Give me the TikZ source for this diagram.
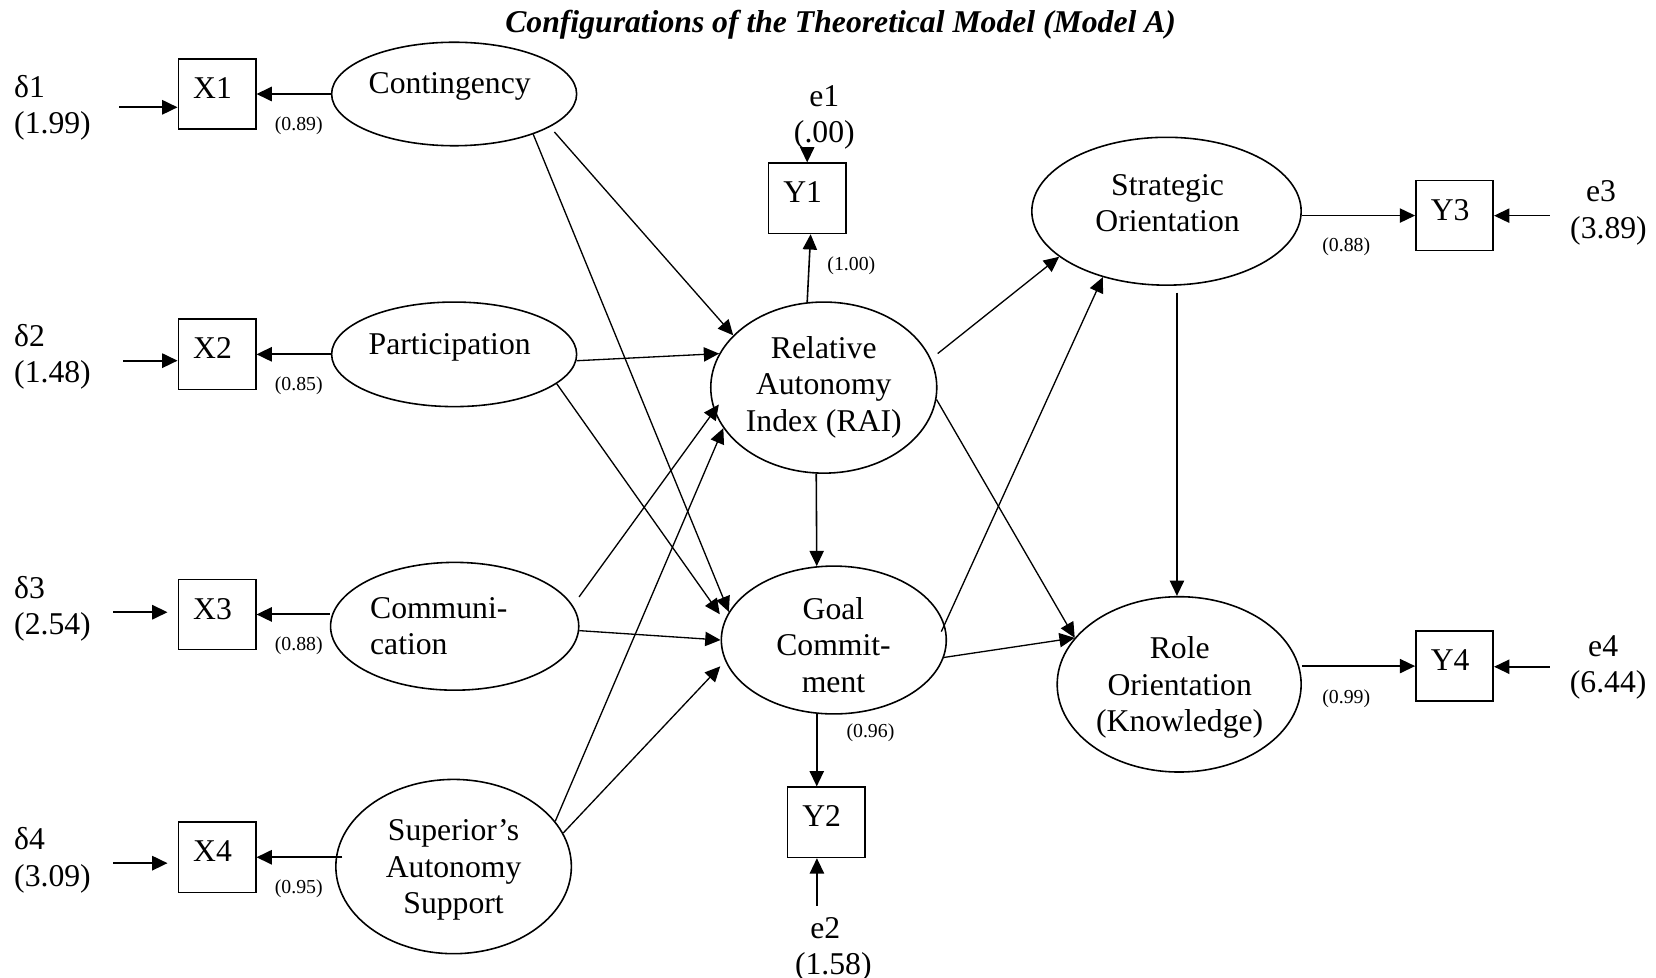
\documentclass[tikz,border=0pt]{standalone}
\usepackage{fontspec}
\setmainfont{Liberation Serif}
\usetikzlibrary{arrows.meta,shapes.geometric}
\begin{document}
\begin{tikzpicture}[x=0.4pt, y=-0.4pt, line width=0.6pt,
  arr/.style={-{Triangle[length=5.8pt,width=5.4pt]}},
  path/.style={arr, line width=0.5pt},
  load/.style={arr, line width=0.75pt},
  latent/.style={draw, ellipse, inner sep=0pt},
  obs/.style={draw, rectangle, inner sep=0pt, minimum width=29.3pt, minimum height=26.6pt},
  txt/.style={font=\fontsize{12}{13.8}\selectfont, align=center, inner sep=0pt,
    execute at begin node=\strut, execute at end node=\strut},
  errtxt/.style={txt, anchor=west, align=left},
  boxlabel/.style={txt, xshift=-1.7pt, yshift=1.0pt},
  coef/.style={font=\fontsize{7.5}{9}\selectfont, inner sep=0pt},
]
\useasboundingbox (0,0) rectangle (1568,926);

% title
\node[txt, font=\fontsize{12}{13.8}\selectfont\bfseries\itshape] (title) at (796,24.1)
  {Configurations of the Theoretical Model (Model A)};

% latent variables
\node[latent, minimum width=92.8pt, minimum height=39.2pt] (cont) at (430,89) {};
\node[latent, minimum width=92.8pt, minimum height=39.6pt] (part) at (430,335.5) {};
\node[latent, minimum width=94pt, minimum height=48.4pt] (comm) at (430.5,593) {};
\node[latent, minimum width=89.2pt, minimum height=66pt] (sup) at (429.5,820.5) {};
\node[latent, minimum width=85.6pt, minimum height=64.8pt] (rai) at (780,367) {};
\node[latent, minimum width=85.2pt, minimum height=56pt] (gc) at (789.5,606) {};
\node[latent, minimum width=102pt, minimum height=56pt] (so) at (1104.5,200) {};
\node[latent, minimum width=92.4pt, minimum height=66.4pt] (ro) at (1116.5,648) {};

\node[txt] (cont-t) at (425.8,81.5) {Contingency};
\node[txt] (part-t) at (425.8,328.7) {Participation};
\node[errtxt] (comm-t) at (349.7,597.8) {Communi-\\cation};
\node[txt] (sup-t) at (429.5,825.9) {Superior’s\\Autonomy\\Support};
\node[txt] (rai-t) at (780,368.6) {Relative\\Autonomy\\Index (RAI)};
\node[txt] (gc-t) at (789.2,615.7) {Goal\\Commit-\\ment};
\node[txt] (so-t) at (1105.5,197.5) {Strategic\\Orientation};
\node[txt] (ro-t) at (1117,653.2) {Role\\Orientation\\(Knowledge)};

% observed indicators
\node[obs, label={[boxlabel]center:X1}] (X1) at (205.5,89) {};
\node[obs, label={[boxlabel]center:X2}] (X2) at (205.5,335.5) {};
\node[obs, label={[boxlabel]center:X3}] (X3) at (205.5,581.8) {};
\node[obs, label={[boxlabel]center:X4}] (X4) at (205.5,811.7) {};
\node[obs, label={[boxlabel]center:Y1}] (Y1) at (764.3,187.8) {};
\node[obs, label={[boxlabel]center:Y2}] (Y2) at (782.3,778.6) {};
\node[obs, label={[boxlabel]center:Y3}] (Y3) at (1377.3,204.1) {};
\node[obs, label={[boxlabel]center:Y4}] (Y4) at (1377.3,630.7) {};

% error terms
\node[errtxt] (d1) at (12.7,104) {δ1\\(1.99)};
\node[errtxt] (d2) at (12.7,339.9) {δ2\\(1.48)};
\node[errtxt] (d3) at (12.7,578.4) {δ3\\(2.54)};
\node[errtxt] (d4) at (12.7,816.4) {δ4\\(3.09)};
\node[txt] (e1) at (780.5,113) {e1\\(.00)};
\node[txt] (e2) at (789,900.8) {e2\hspace*{6pt}\\(1.58)};
\node[txt] (e3) at (1523,203.5) {e3\hspace*{5.6pt}\\(3.89)};
\node[txt] (e4) at (1522.7,633.7) {e4\hspace*{3.8pt}\\(6.44)};

\coordinate (d1a) at (113,101.6);
\coordinate (d2a) at (116.7,341.5);
\coordinate (d3a) at (107.3,579.7);
\coordinate (d4a) at (107.3,817.3);
\coordinate (e1a) at (764.3,141);
\coordinate (e2a) at (773.5,857.8);
\coordinate (e3a) at (1467.5,204.2);
\coordinate (e4a) at (1467.5,631.3);

\draw[load] (d1a) -- (d1a -| X1.west);
\draw[load] (d2a) -- (d2a -| X2.west);
\draw[load, shorten >=3.8pt] (d3a) -- (d3a -| X3.west);
\draw[load, shorten >=3.8pt] (d4a) -- (d4a -| X4.west);
\draw[arr] (e1a) -- (Y1.north);
\draw[arr] (e2a) -- (e2a |- Y2.south);
\draw[arr] (e3a) -- (e3a -| Y3.east);
\draw[arr] (e4a) -- (e4a -| Y4.east);

% measurement paths
\draw[load] (cont.west) -- (X1.east);
\draw[load] (part.west) -- (X2.east);
\draw[load] (X3.east -| comm.west) -- (X3.east);
\draw[load, shorten <=-2.8pt] (X4.east -| sup.west) -- (X4.east);
\draw[arr] (rai.101) -- ([xshift=1.3pt]Y1.south);
\draw[arr] (gc.257) -- (gc.257 |- Y2.north);
\draw[arr] (Y3.west -| so.east) -- (Y3.west);
\draw[arr] (Y4.west -| ro.east) -- (Y4.west);

% structural paths
\draw[path, shorten <=2.5pt] (cont.-19) -- (rai.150);
\draw[path] (cont.-27) -- (gc.165);
\draw[path] (part.-3) -- (rai.162);
\draw[path, shorten >=3pt] (part.-16) -- (gc.170);
\draw[path, shorten <=4pt, shorten >=-3pt] (comm.10) -- (rai.192);
\draw[path] (comm.-2) -- (gc.west);
\draw[path] (sup.24) -- (rai.202);
\draw[path, shorten >=2.7pt] (sup.17) -- (gc.191);
\draw[arr] (rai.265) -- (gc.103);
\draw[path, shorten <=3.2pt] (rai.15) -- (so.203);
\draw[path] (rai.-6) -- (ro.156);
\draw[path, shorten <=-3pt] (gc.8) -- (so.226);
\draw[path] (gc.-9) -- (ro.156);
\draw[arr, shorten <=2.6pt] (so.-82) -- (so.-82 |- ro.north);

% loadings
\node[coef] (l1) at (282.9,119.2) {(0.89)};
\node[coef] (l2) at (282.9,365.4) {(0.85)};
\node[coef] (l3) at (282.9,611.7) {(0.88)};
\node[coef] (l4) at (282.9,841.8) {(0.95)};
\node[coef] (l5) at (806.1,251.6) {(1.00)};
\node[coef] (l6) at (824.2,693.8) {(0.96)};
\node[coef] (l7) at (1274.7,233.6) {(0.88)};
\node[coef] (l8) at (1274.7,661.3) {(0.99)};
\end{tikzpicture}
\end{document}
